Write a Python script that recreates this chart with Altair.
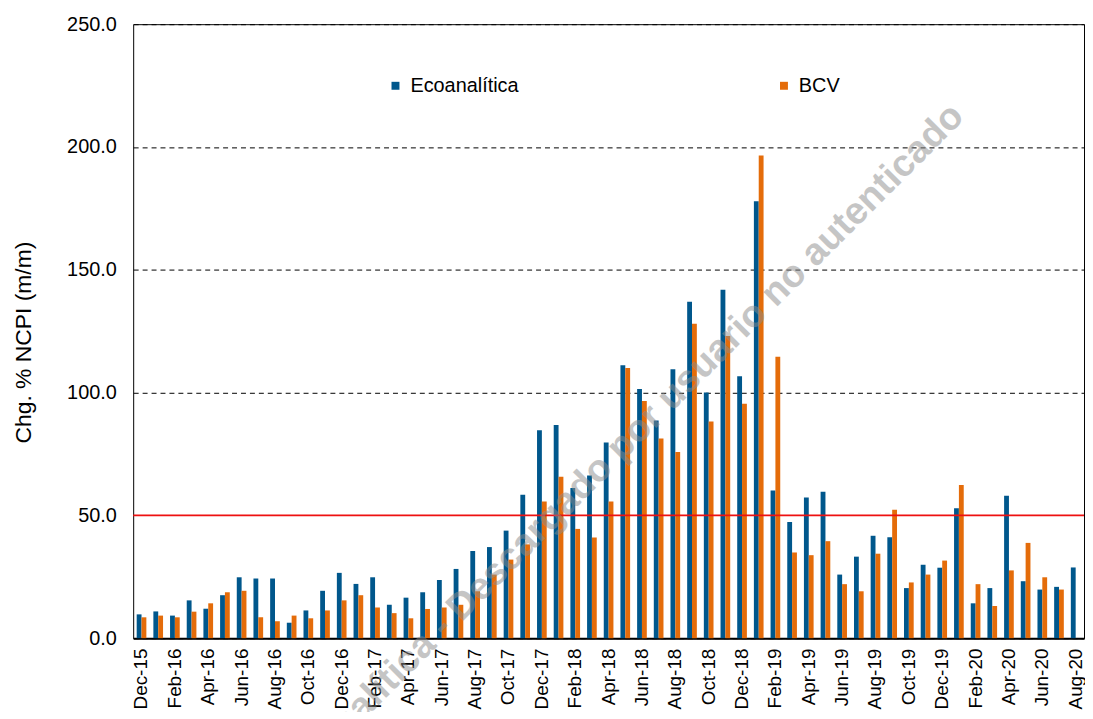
import altair as alt
import pandas as pd

months = [
    "Dec-15", "Jan-16", "Feb-16", "Mar-16", "Apr-16", "May-16", "Jun-16", "Jul-16",
    "Aug-16", "Sep-16", "Oct-16", "Nov-16", "Dec-16", "Jan-17", "Feb-17", "Mar-17",
    "Apr-17", "May-17", "Jun-17", "Jul-17", "Aug-17", "Sep-17", "Oct-17", "Nov-17",
    "Dec-17", "Jan-18", "Feb-18", "Mar-18", "Apr-18", "May-18", "Jun-18", "Jul-18",
    "Aug-18", "Sep-18", "Oct-18", "Nov-18", "Dec-18", "Jan-19", "Feb-19", "Mar-19",
    "Apr-19", "May-19", "Jun-19", "Jul-19", "Aug-19", "Sep-19", "Oct-19", "Nov-19",
    "Dec-19", "Jan-20", "Feb-20", "Mar-20", "Apr-20", "May-20", "Jun-20", "Jul-20",
    "Aug-20",
]

tick_labels = [
    "Dec-15", "Feb-16", "Apr-16", "Jun-16", "Aug-16", "Oct-16", "Dec-16", "Feb-17",
    "Apr-17", "Jun-17", "Aug-17", "Oct-17", "Dec-17", "Feb-18", "Apr-18", "Jun-18",
    "Aug-18", "Oct-18", "Dec-18", "Feb-19", "Apr-19", "Jun-19", "Aug-19", "Oct-19",
    "Dec-19", "Feb-20", "Apr-20", "Jun-20", "Aug-20",
]

ecoanalitica = [
    9.7, 10.9, 9.2, 15.4, 12.0, 17.5, 24.8, 24.3, 24.3, 6.3,
    11.3, 19.3, 26.6, 22.1, 24.8, 13.6, 16.5, 18.7, 23.7, 28.2,
    35.5, 37.1, 43.8, 58.4, 84.7, 86.8, 61.2, 66.2, 79.7, 111.1,
    101.5, 88.6, 109.5, 137.0, 100.0, 141.9, 106.7, 177.9, 60.1, 47.3,
    57.3, 59.6, 25.9, 33.2, 41.7, 41.1, 20.4, 29.9, 28.7, 52.9,
    14.2, 20.4, 58.0, 23.2, 19.8, 20.9, 28.8,
]

bcv = [
    8.5, 9.2, 8.5, 10.8, 14.2, 18.7, 19.3, 8.5, 6.9, 9.2,
    8.1, 11.3, 15.4, 17.5, 12.5, 10.2, 8.1, 11.9, 12.5, 13.6,
    19.1, 25.9, 32.0, 38.2, 55.7, 65.7, 44.5, 41.0, 55.7, 110.0,
    96.6, 81.3, 75.8, 128.0, 88.2, 123.0, 95.5, 196.5, 114.6, 34.9,
    33.8, 39.5, 22.0, 19.1, 34.4, 52.3, 22.7, 25.9, 31.6, 62.4,
    22.0, 13.1, 27.6, 38.8, 24.8, 19.8, None,
]

series_names = ["Ecoanalítica", "BCV"]
series_colors = ["#00578C", "#E46C0A"]
y_ticks = [0, 50, 100, 150, 200, 250]
threshold = [50]
watermark = ["Ecoanalítica - Descargado por usuario no autenticado"]

rows = []
for m, e, b in zip(months, ecoanalitica, bcv):
    rows.append({"month": m, "series": series_names[0], "value": e})
    if b is not None:
        rows.append({"month": m, "series": series_names[1], "value": b})
df = pd.DataFrame(rows)

FONT = "Liberation Sans"

bars = alt.Chart(df).mark_bar().encode(
    x=alt.X(
        "month:N",
        sort=months,
        scale=alt.Scale(domain=months, paddingInner=0.42, paddingOuter=0.21),
        axis=alt.Axis(
            values=tick_labels,
            labelAngle=270,
            labelFontSize=19,
            labelPadding=10,
            labelColor="black",
            labelOverlap=False,
            ticks=False,
            domain=True,
            domainColor="black",
            domainWidth=2,
            grid=False,
            title=None,
        ),
    ),
    xOffset=alt.XOffset(
        "series:N",
        sort=series_names,
        scale=alt.Scale(domain=series_names, paddingInner=0, paddingOuter=0),
    ),
    y=alt.Y(
        "value:Q",
        scale=alt.Scale(domain=[0, 250], nice=False),
        axis=alt.Axis(
            values=y_ticks,
            format=".1f",
            labelFontSize=20,
            labelColor="black",
            labelPadding=17,
            ticks=False,
            domain=False,
            grid=True,
            gridDash=[5, 4],
            gridColor="black",
            gridWidth=1,
            title="Chg. % NCPI (m/m)",
            titleFontSize=23,
            titleFontWeight="normal",
            titleColor="black",
            titlePadding=31,
            titleY=320,
        ),
    ),
    color=alt.Color(
        "series:N",
        sort=series_names,
        scale=alt.Scale(domain=series_names, range=series_colors),
        legend=alt.Legend(
            title=None,
            orient="none",
            legendX=254,
            legendY=52,
            direction="horizontal",
            columns=2,
            columnPadding=257,
            symbolType="square",
            symbolSize=64,
            symbolStrokeWidth=0,
            labelFontSize=20,
            labelColor="black",
            labelOffset=5,
            padding=0,
        ),
    ),
)

rule = alt.Chart(pd.DataFrame({"y": threshold})).mark_rule(
    color="#EE1111", strokeWidth=1.6
).encode(y="y:Q")

wm = alt.Chart(pd.DataFrame({"t": watermark})).mark_text(
    font=FONT,
    fontSize=38,
    fontWeight="bold",
    angle=315,
    align="center",
    baseline="middle",
    color="#8C8C8C",
    opacity=0.5,
).encode(
    text="t:N",
    x=alt.value(486),
    y=alt.value(431),
)

chart = (
    alt.layer(bars, rule, wm)
    .properties(
        width=957,
        height=618,
        autosize=alt.AutoSizeParams(type="none"),
        padding={"left": 126, "top": 14, "right": 1, "bottom": 72},
    )
    .configure(font=FONT)
    .configure_view(stroke="black", strokeWidth=1)
)

chart.save("out.html", embed_options={"renderer": "svg", "actions": False})
